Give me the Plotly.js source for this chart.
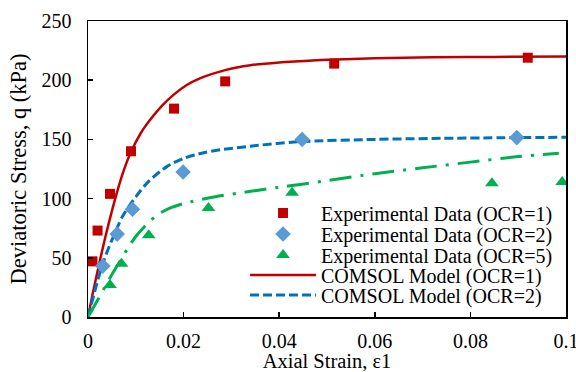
<!DOCTYPE html>
<html>
<head>
<meta charset="utf-8">
<script src="https://cdn.plot.ly/plotly-3.0.1.min.js"></script>
<style>html,body{margin:0;padding:0;background:#fff;}#chart{width:576px;height:372px;}</style>
</head>
<body>
<div id="chart"></div>
<script>
// Experimental data
const exp1X = [0.00094, 0.0020, 0.0046, 0.009, 0.018, 0.0287, 0.0515, 0.092];
const exp1Y = [47, 73, 104, 140, 176, 199, 214, 219];
const exp2X = [0.0031, 0.0061, 0.0093, 0.0199, 0.0448, 0.0897];
const exp2Y = [43, 70, 91, 122.5, 150, 151.5];
const exp5X = [0.0046, 0.007, 0.0127, 0.0252, 0.0427, 0.0845, 0.0992];
const exp5Y = [27, 45, 69, 92, 105, 113, 114];
// COMSOL model curves
const mod1X = [0, 0.001, 0.0024, 0.0039, 0.0059, 0.0075, 0.009, 0.011, 0.013, 0.0155, 0.018, 0.0205, 0.0234, 0.0287, 0.034, 0.04, 0.044, 0.05, 0.06, 0.072, 0.085, 0.1];
const mod1Y = [0, 20, 46, 72, 103, 124, 139.5, 155, 166.5, 178.5, 188, 195.5, 201.5, 208.5, 212.6, 215, 216, 217.3, 218.5, 219.3, 219.7, 220];
const mod2X = [0, 0.0013, 0.0024, 0.0038, 0.0059, 0.0073, 0.01, 0.0128, 0.0165, 0.02, 0.024, 0.027, 0.034, 0.044, 0.06, 0.072, 0.1];
const mod2Y = [0, 20, 36, 53, 73.5, 85.5, 101.5, 115, 127, 134, 138.5, 140.8, 144.3, 148, 150, 150.8, 151.8];
const mod5X = [0, 0.0024, 0.0048, 0.0069, 0.0084, 0.01, 0.0128, 0.015, 0.0175, 0.02, 0.022, 0.0266, 0.0314, 0.036, 0.0408, 0.0444, 0.05, 0.06, 0.07, 0.08, 0.09, 0.0985];
const mod5Y = [0, 17, 34.5, 48.5, 58.5, 68, 80.5, 87.5, 92.5, 95.8, 97.8, 101.6, 104.5, 107.3, 110, 112, 115.2, 121, 126, 130.8, 135.5, 138.3];
// Labels
const names = ['Experimental Data (OCR=1)', 'Experimental Data (OCR=2)', 'Experimental Data (OCR=5)', 'COMSOL Model (OCR=1)', 'COMSOL Model (OCR=2)', 'COMSOL Model (OCR=5)'];
const xTickVals = [0, 0.02, 0.04, 0.06, 0.08, 0.1];
const xTickText = ['0', '0.02', '0.04', '0.06', '0.08', '0.1'];
const xTitle = 'Axial Strain, ε1';
const yTitle = 'Deviatoric Stress, q (kPa)';

const FONT = 'Liberation Serif, Times New Roman, serif';
const red = '#C00000', blueM = '#5B9BD5', green = '#00B050', blueL = '#0070C0';

const traces = [
  {x: mod1X, y: mod1Y, name: names[3], mode: 'lines', line: {color: red, width: 2.5, shape: 'spline', smoothing: 0.8}, legend: 'legend4'},
  {x: mod2X, y: mod2Y, name: names[4], mode: 'lines', line: {color: blueL, width: 3, dash: '9px,4px', shape: 'spline', smoothing: 0.8}, legend: 'legend5'},
  {x: mod5X, y: mod5Y, name: names[5], mode: 'lines', line: {color: green, width: 3, dash: '22px,9px,3px,9px', shape: 'spline', smoothing: 0.8}, showlegend: false},
  {x: exp1X, y: exp1Y, name: names[0], mode: 'markers', marker: {symbol: 'square', size: 10, color: red}, legend: 'legend'},
  {x: exp2X, y: exp2Y, name: names[1], mode: 'markers', marker: {symbol: 'diamond', size: 12, color: blueM}, legend: 'legend2'},
  {x: exp5X, y: exp5Y, name: names[2], mode: 'markers', marker: {symbol: 'triangle-up', size: 12, color: green}, legend: 'legend3'}
];

const legX = 0.3285;
const legYs = [0.3514, 0.2804, 0.2095, 0.1419, 0.0743];
function leg(y) {
  return {x: legX, y: y, xanchor: 'left', yanchor: 'middle', bgcolor: 'rgba(0,0,0,0)', borderwidth: 0,
          itemwidth: 66, font: {family: FONT, size: 20, color: '#000'}};
}

const axisCommon = {
  showgrid: false, zeroline: false, showline: true, mirror: true, linecolor: '#000', linewidth: 1.5,
  ticks: 'inside', ticklen: 5, tickwidth: 1.5, tickcolor: '#000', ticklabeloverflow: 'allow',
  tickfont: {family: FONT, size: 20, color: '#000'}, automargin: false
};

const layout = {
  width: 576, height: 372,
  margin: {l: 88, r: 10, t: 21, b: 55},
  paper_bgcolor: '#fff', plot_bgcolor: '#fff',
  font: {family: FONT, color: '#000'},
  xaxis: Object.assign({}, axisCommon, {range: [0, 0.1], tickmode: 'array', tickvals: xTickVals, ticktext: xTickText, ticklabelstandoff: 5,
    title: {text: xTitle, font: {family: FONT, size: 20.5, color: '#000'}, standoff: 16}}),
  yaxis: Object.assign({}, axisCommon, {range: [0, 250], dtick: 50, tick0: 0, ticklabelstandoff: 11,
    title: {text: yTitle, font: {family: FONT, size: 22.5, color: '#000'}, standoff: 8}}),
  legend: leg(legYs[0]), legend2: leg(legYs[1]), legend3: leg(legYs[2]), legend4: leg(legYs[3]), legend5: leg(legYs[4]),
  showlegend: true
};

Plotly.newPlot('chart', traces, layout, {displayModeBar: false, staticPlot: true});
</script>
</body>
</html>
